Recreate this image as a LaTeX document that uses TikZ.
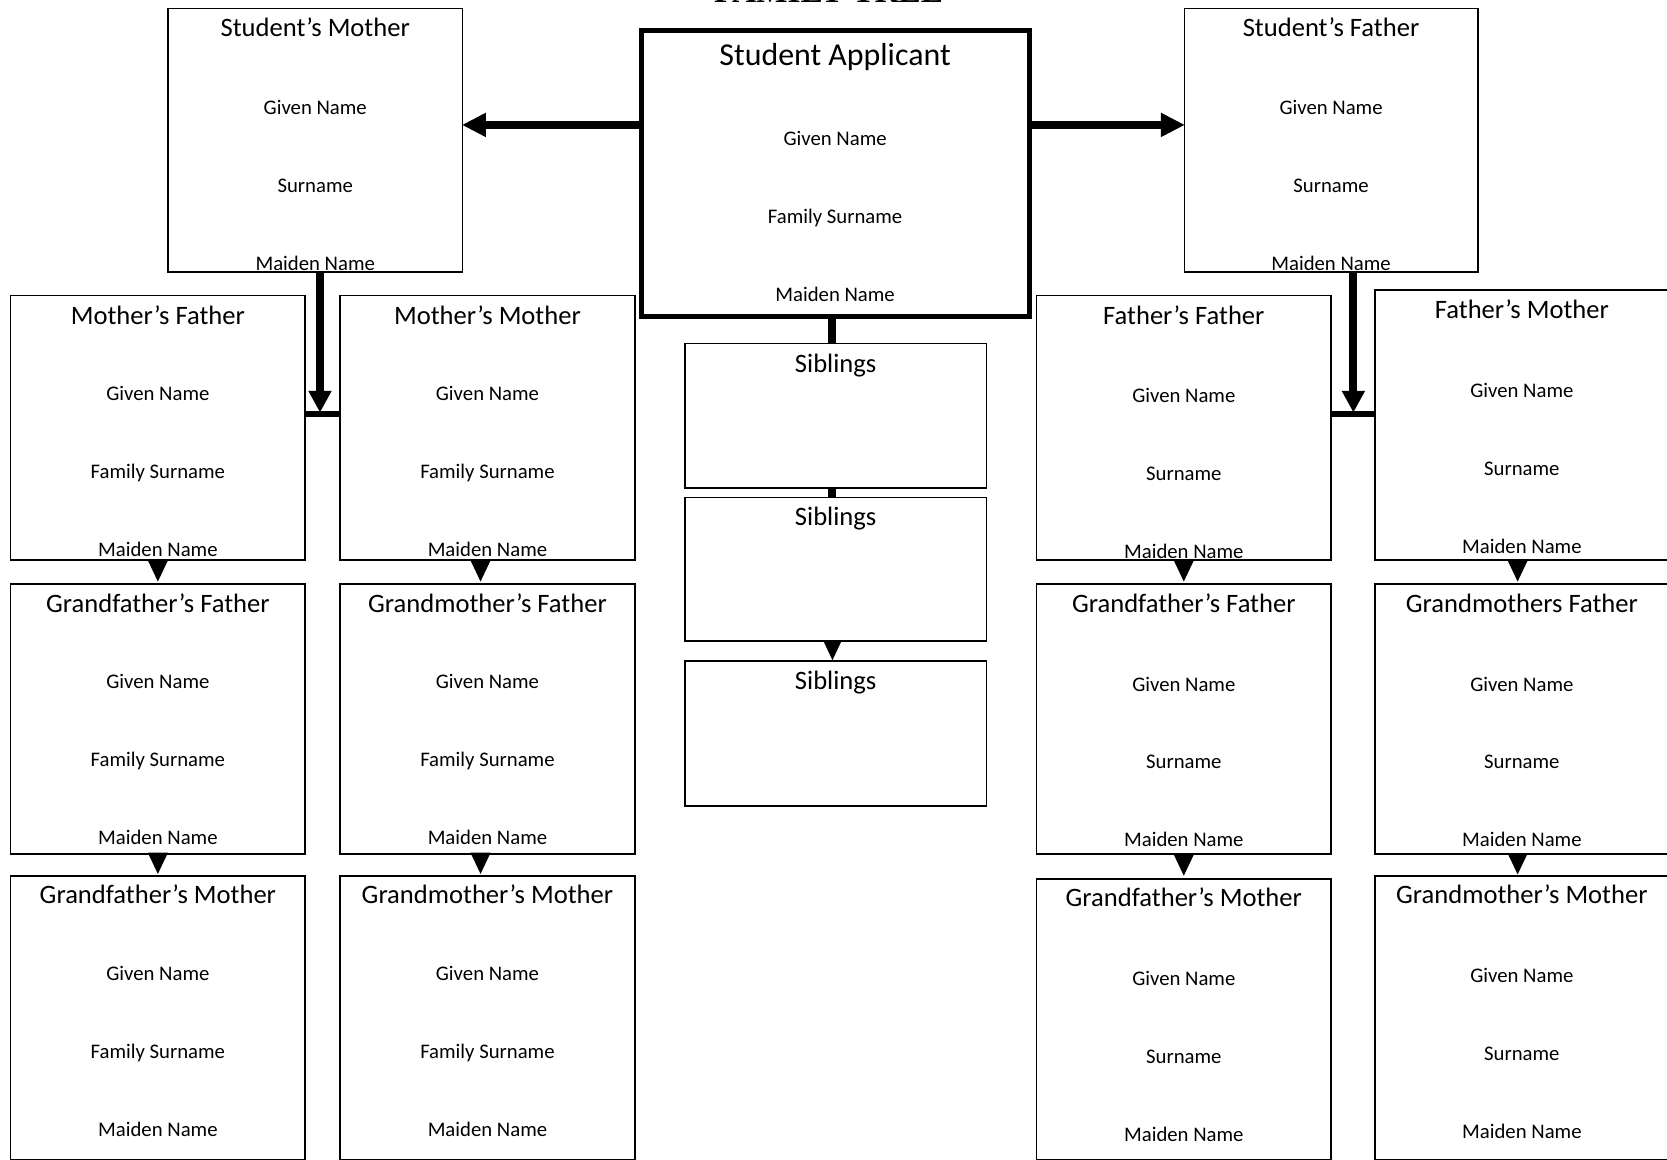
\documentclass[tikz,border=0pt]{standalone}
\usepackage{fontspec}
\setmainfont{Carlito}
\newfontfamily\titlefont{Liberation Serif}
\usetikzlibrary{arrows.meta}

\tikzset{
 card/.style={draw, line width=1.6pt, inner sep=0pt, outer sep=0pt},
 ctitle/.style={anchor=base, inner sep=0pt, font=\fontsize{25pt}{30pt}\selectfont},
 cfield/.style={anchor=base, inner sep=0pt, font=\fontsize{19.5pt}{23pt}\selectfont},
 conn/.style={line width=7.5pt},
 bar/.style={line width=5.6pt},
 bigarrow/.style={line width=7.5pt, -{Triangle[width=23pt,length=22pt,line width=0pt]}},
 downarrow/.style={line width=7.5pt, -{Triangle[width=22pt,length=20pt,line width=0pt]}},
 tri/.style={line width=0.1pt, -{Triangle[width=19pt,length=20pt,line width=0pt]}},
 smalltri/.style={line width=0.1pt, -{Triangle[width=16pt,length=17pt,line width=0pt]}},
}

% #1 name, #2 x1, #3 y1, #4 x2, #5 y2, #6 title, #7 second field, #8 title centre y, #9 first field centre y
\newcommand\famcard[9]{%
 \node[card,minimum width={#4-#2},minimum height={#5-#3}] (#1) at ({(#2+#4)/2},{(#3+#5)/2}) {};
 \node[ctitle] (#1-t) at ({(#2+#4)/2},{#8+9}) {#6};
 \node[cfield] (#1-a) at ({(#2+#4)/2},{#9+7}) {Given Name};
 \node[cfield] (#1-b) at ({(#2+#4)/2},{#9+80.3}) {#7};
 \node[cfield] (#1-c) at ({(#2+#4)/2},{#9+153.6}) {Maiden Name};
}

\begin{document}
\begin{tikzpicture}[x=1pt,y=-1pt]
\useasboundingbox (0,0) rectangle (1568,1090.2);
\clip (0,0) rectangle (1568,1090.2);

\node[anchor=base,inner sep=0pt,font=\titlefont\bfseries\fontsize{31.4pt}{36pt}\selectfont] (title) at (779.5,2.5) {FAMILY TREE};

% student applicant
\node[card,line width=4.7pt,minimum width=365pt,minimum height=269pt] (sa) at (785.5,163.5) {};
\node[anchor=base,inner sep=0pt,font=\fontsize{30pt}{36pt}\selectfont] (sa-t) at (785.5,61.5) {Student Applicant};
\node[cfield] (sa-a) at (785.5,137) {Given Name};
\node[cfield] (sa-b) at (785.5,210) {Family Surname};
\node[cfield] (sa-c) at (785.5,284) {Maiden Name};

% siblings
\node[card,minimum width=284pt,minimum height=136pt] (sib1) at (786,391) {};
\node[ctitle] (sib1-t) at (786,350) {Siblings};
\node[card,minimum width=284pt,minimum height=135pt] (sib2) at (786,535.5) {};
\node[ctitle] (sib2-t) at (786,494) {Siblings};
\node[card,minimum width=284pt,minimum height=136pt] (sib3) at (786,690) {};
\node[ctitle] (sib3-t) at (786,649) {Siblings};

% parents
\famcard{sm}{158}{8}{435}{256}{Student’s Mother}{Surname}{25}{101}
\famcard{sf}{1114}{8}{1390}{256}{Student’s Father}{Surname}{25}{101}

% mother's side
\famcard{mf}{10}{278}{287}{527}{Mother’s Father}{Family Surname}{296}{370}
\famcard{mm}{320}{278}{597}{527}{Mother’s Mother}{Family Surname}{296}{370}
\famcard{gffl}{10}{549}{287}{803}{Grandfather’s Father}{Family Surname}{567}{641}
\famcard{gmfl}{320}{549}{597}{803}{Grandmother’s Father}{Family Surname}{567}{641}
\famcard{gfml}{10}{824}{287}{1090.5}{Grandfather’s Mother}{Family Surname}{841}{915}
\famcard{gmml}{320}{824}{597}{1090.5}{Grandmother’s Mother}{Family Surname}{841}{915}

% father's side
\famcard{ff}{975}{278}{1252}{527}{Father’s Father}{Surname}{296}{372}
\famcard{fm}{1293}{273}{1570}{527}{Father’s Mother}{Surname}{291}{367}
\famcard{gffr}{975}{549}{1252}{803}{Grandfather’s Father}{Surname}{567}{643}
\famcard{gmfr}{1293}{549}{1570}{803}{Grandmothers Father}{Surname}{567}{643}
\famcard{gfmr}{975}{827}{1252}{1090.5}{Grandfather’s Mother}{Surname}{844}{920}
\famcard{gmmr}{1293}{824}{1570}{1090.5}{Grandmother’s Mother}{Surname}{841}{917}

% applicant to parents
\draw[bigarrow] ([yshift=46pt]sa.west) -- ([yshift=46pt]sa.west -| sm.east);
\draw[bigarrow] ([yshift=46pt]sa.east) -- ([yshift=46pt]sa.east -| sf.west);

% applicant to siblings
\draw[conn] ([xshift=-3pt]sib1.north) -- ([xshift=-3pt]sib1.north |- sa.south);
\draw[conn] ([xshift=-3pt]sib1.south) -- ([xshift=-3pt]sib2.north);
\draw[smalltri,shorten >=1pt] ([xshift=-3pt]sib2.south) -- ([xshift=-3pt]sib3.north);

% mother to her parents
\coordinate (mbar) at ([yshift=13.5pt]mf.east);
\draw[bar] (mbar) -- (mbar -| mm.west);
\draw[downarrow,shorten >=1.3pt] ([xshift=4.5pt]sm.south) -- ([xshift=4.5pt]sm.south |- mbar);

% father to his parents
\coordinate (fbar) at ([yshift=13.5pt]ff.east);
\draw[bar] (fbar) -- (fbar -| fm.west);
\draw[downarrow,shorten >=1.3pt] ([xshift=21pt]sf.south) -- ([xshift=21pt]sf.south |- fbar);

% grandparents to great-grandparents
\draw[tri,shorten >=2pt] (mf.south) -- (gffl.north);
\draw[tri,shorten >=2pt] ([xshift=-6.5pt]mm.south) -- ([xshift=-6.5pt]gmfl.north);
\draw[tri,shorten >=2pt] (gffl.south) -- (gfml.north);
\draw[tri,shorten >=2pt] ([xshift=-6.5pt]gmfl.south) -- ([xshift=-6.5pt]gmml.north);
\draw[tri,shorten >=2pt] (ff.south) -- (gffr.north);
\draw[tri,shorten >=2pt] ([xshift=-4pt]fm.south) -- ([xshift=-4pt]gmfr.north);
\draw[tri,shorten >=3.3pt] (gffr.south) -- (gfmr.north);
\draw[tri,shorten >=1.5pt] ([xshift=-4pt]gmfr.south) -- ([xshift=-4pt]gmmr.north);
\end{tikzpicture}
\end{document}
